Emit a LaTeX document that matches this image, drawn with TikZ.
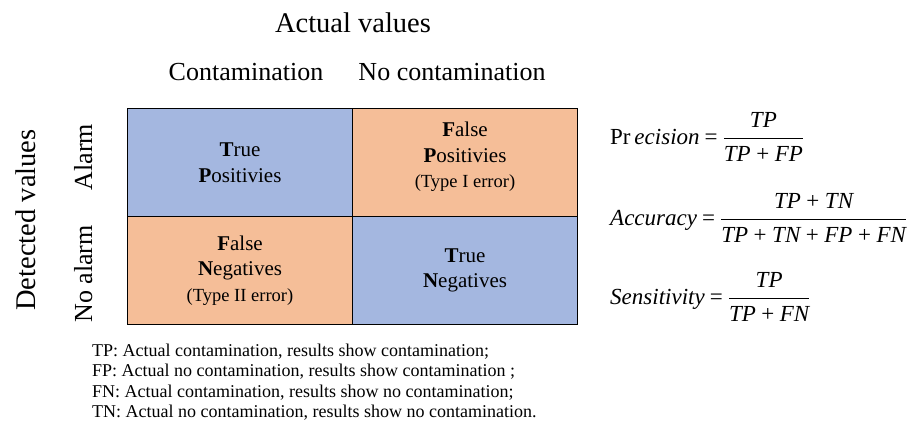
\documentclass[tikz,border=0pt]{standalone}
\usepackage{amsmath}
\usepackage{fontspec}
\setmainfont{Liberation Serif}
\usetikzlibrary{positioning}
\definecolor{hitblue}{RGB}{164,183,224}
\definecolor{misspeach}{RGB}{245,190,152}
\tikzset{
  cell/.style={draw=black,line width=1.6pt,outer sep=0pt,inner sep=0pt,
    minimum width=225pt,minimum height=108pt,align=center,
    font=\fontsize{21}{25.5}\selectfont},
  hit/.style={cell,fill=hitblue},
  miss/.style={cell,fill=misspeach},
  axistitle/.style={font=\fontsize{28.5}{32}\selectfont,anchor=base},
  classlabel/.style={font=\fontsize{26}{30}\selectfont,anchor=base},
  formula/.style={anchor=west,inner sep=0pt,font=\fontsize{23}{27}\selectfont},
  keyline/.style={anchor=base west,inner sep=0pt,font=\fontsize{18}{21}\selectfont}
}
\newcommand{\errnote}[1]{{\fontsize{18.5}{22}\selectfont #1}}
\newcommand{\ratiofrac}[2]{$\dfrac{#1}{#2}$}
\newcommand{\plusop}{\mathbin{\text{+}}}
\newcommand{\eqsign}{\hspace{.22em}=\hspace{.22em}}

\begin{document}
\begin{tikzpicture}[x=1pt,y=-1pt]
  \useasboundingbox (0,0) rectangle (913,421);
  % confusion matrix
  \node[hit] (tp) at (240,162.5) {\textbf{T}rue\\\textbf{P}ositivies};
  \node[miss,right=0pt of tp,text depth=15pt] (fp) {\textbf{F}alse\\\textbf{P}ositivies\\\errnote{(Type I error)}};
  \node[miss,below=0pt of tp] (fn) {\textbf{F}alse\\\textbf{N}egatives\\\errnote{(Type II error)}};
  \node[hit,right=0pt of fn] (tn) {\textbf{T}rue\\\textbf{N}egatives};
  % headers
  \node[axistitle] (actual) at (353,32) {Actual values};
  \node[classlabel] (contam) at (246,80) {Contamination};
  \node[classlabel] (nocontam) at (452,80) {No contamination};
  \node[axistitle,rotate=90] (detected) at (35,220) {Detected values};
  \node[classlabel,rotate=90] (alarm) at (92,157) {Alarm};
  \node[classlabel,rotate=90] (noalarm) at (92,274) {No alarm};
  % metrics
  \node[formula] (precision) at (610,137)
    {Pr\,\textit{ecision}\eqsign\ratiofrac{\textit{TP}}{\textit{TP}\plusop\textit{FP}}};
  \node[formula] (accuracy) at (610,218)
    {\textit{Accuracy}\eqsign\ratiofrac{\textit{TP}\plusop\textit{TN}}{\textit{TP}\plusop\textit{TN}\plusop\textit{FP}\plusop\textit{FN}}};
  \node[formula] (sensitivity) at (610,297)
    {\textit{Sensitivity}\eqsign\ratiofrac{\textit{TP}}{\textit{TP}\plusop\textit{FN}}};
  % key
  \foreach \abbr/\txt [count=\i] in {
      TP/{Actual contamination, results show contamination;},
      FP/{Actual no contamination, results show contamination ;},
      FN/{Actual contamination, results show no contamination;},
      TN/{Actual no contamination, results show no contamination.}}
    \node[keyline] (key\i) at (92,335.5+20.5*\i) {\abbr: \txt};
\end{tikzpicture}
\end{document}
